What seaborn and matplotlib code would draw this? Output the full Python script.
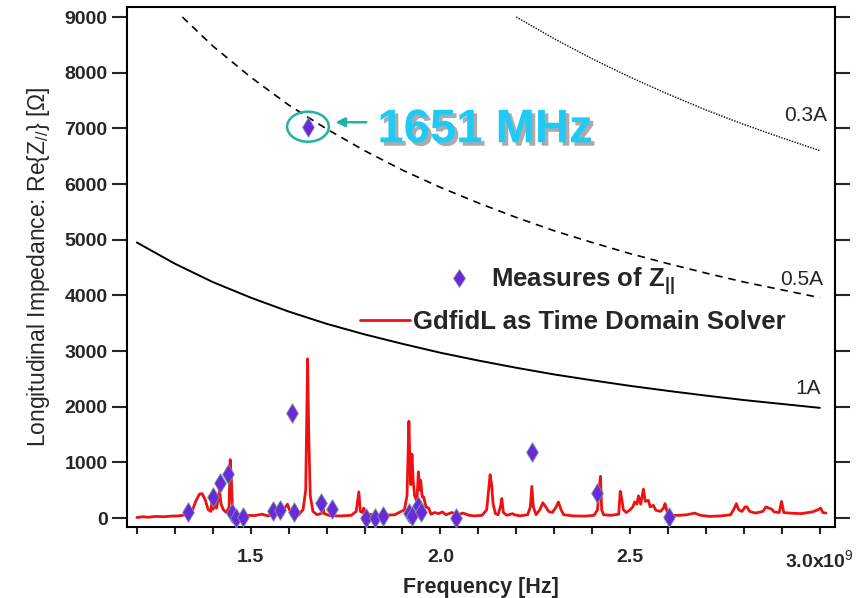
import numpy as np
import pandas as pd
import matplotlib
matplotlib.use("Agg")
import matplotlib.pyplot as plt
import matplotlib.patheffects as pe
from matplotlib.patches import Ellipse
from matplotlib.lines import Line2D
import seaborn as sns

# ---- measured impedance points (frequency in GHz, Re{Z} in Ohm) ----
meas_f = [1.334, 1.400, 1.418, 1.440, 1.450, 1.460, 1.479, 1.558, 1.576, 1.610,
          1.614, 1.651, 1.684, 1.715, 1.805, 1.828, 1.849, 1.918, 1.925, 1.941,
          1.949, 2.040, 2.241, 2.412, 2.603]
meas_z = [108, 377, 628, 790, 90, 0, 18, 126, 144, 1885,
          108, 7030, 270, 160, 5, 5, 36, 90, 36, 220,
          113, 5, 1185, 443, 23]

# ---- GdfidL time-domain simulation spectrum ----
sim_f = [1.200, 1.215, 1.230, 1.250, 1.270, 1.290, 1.310, 1.330, 1.345, 1.355,
         1.365, 1.372, 1.380, 1.388, 1.395, 1.398, 1.401, 1.405, 1.410, 1.414,
         1.418, 1.422, 1.428, 1.436, 1.443, 1.446, 1.449, 1.452, 1.458, 1.470,
         1.490, 1.510, 1.530, 1.545, 1.560, 1.575, 1.585, 1.592, 1.597, 1.602,
         1.610, 1.625, 1.638, 1.645, 1.650, 1.653, 1.657, 1.664, 1.675, 1.688,
         1.691, 1.694, 1.710, 1.740, 1.765, 1.778, 1.785, 1.789, 1.795, 1.798,
         1.802, 1.820, 1.850, 1.880, 1.905, 1.912, 1.917, 1.920, 1.922, 1.925,
         1.928, 1.932, 1.938, 1.942, 1.946, 1.948, 1.952, 1.956, 1.962, 1.969,
         1.975, 1.985, 1.995, 2.005, 2.015, 2.030, 2.045, 2.060, 2.075, 2.090,
         2.110, 2.122, 2.127, 2.131, 2.135, 2.139, 2.145, 2.152, 2.158, 2.162,
         2.166, 2.175, 2.190, 2.195, 2.210, 2.230, 2.237, 2.241, 2.245, 2.252,
         2.262, 2.270, 2.278, 2.285, 2.295, 2.305, 2.311, 2.318, 2.325, 2.350,
         2.380, 2.405, 2.414, 2.418, 2.422, 2.425, 2.430, 2.450, 2.470, 2.474,
         2.478, 2.482, 2.490, 2.500, 2.507, 2.512, 2.518, 2.522, 2.528, 2.535,
         2.540, 2.548, 2.553, 2.561, 2.568, 2.580, 2.588, 2.592, 2.598, 2.610,
         2.630, 2.650, 2.670, 2.685, 2.710, 2.740, 2.765, 2.775, 2.780, 2.786,
         2.795, 2.803, 2.808, 2.815, 2.830, 2.850, 2.858, 2.866, 2.873, 2.880,
         2.893, 2.899, 2.905, 2.920, 2.950, 2.980, 2.995, 3.002, 3.008, 3.016]
sim_z = [10, 25, 15, 30, 25, 35, 40, 60, 110, 300,
         430, 440, 330, 150, 120, 300, 160, 250, 180, 330,
         500, 250, 150, 100, 200, 1050, 700, 150, 80, 60,
         50, 45, 70, 40, 60, 110, 150, 200, 250, 150,
         60, 50, 150, 500, 2860, 1500, 400, 120, 60, 90,
         200, 80, 40, 40, 50, 120, 470, 120, 100, 180,
         90, 60, 50, 60, 150, 400, 1740, 900, 600, 1150,
         700, 400, 300, 830, 500, 680, 380, 380, 200, 180,
         70, 100, 80, 110, 60, 100, 60, 90, 50, 40,
         50, 150, 500, 780, 600, 250, 80, 60, 200, 350,
         100, 50, 80, 60, 40, 60, 200, 570, 200, 60,
         150, 275, 200, 120, 100, 200, 290, 150, 60, 40,
         35, 50, 150, 500, 750, 150, 60, 50, 70, 480,
         350, 150, 100, 150, 200, 290, 250, 400, 250, 520,
         300, 320, 200, 230, 140, 120, 180, 260, 100, 50,
         50, 60, 90, 50, 30, 40, 60, 180, 260, 150,
         120, 200, 200, 120, 90, 120, 200, 180, 160, 110,
         100, 300, 100, 90, 80, 110, 150, 180, 100, 90]

# ---- instability thresholds for different beam currents ----
thr_1a_f = [1.2, 1.3, 1.4, 1.5, 1.6, 1.7, 1.8, 1.9, 2.0, 2.1, 2.2, 2.3, 2.4, 2.5,
            2.6, 2.7, 2.8, 2.9, 3.0]
thr_1a_z = [4950, 4570, 4240, 3960, 3710, 3490, 3300, 3130, 2970, 2830, 2700,
            2580, 2475, 2375, 2285, 2200, 2120, 2050, 1980]
thr_05a_f = [1.32, 1.4, 1.5, 1.6, 1.7, 1.8, 1.9, 2.0, 2.1, 2.2, 2.3, 2.4, 2.5, 2.6,
             2.7, 2.8, 2.9, 3.0]
thr_05a_z = [9000, 8480, 7920, 7420, 6990, 6600, 6250, 5940, 5660, 5400, 5160,
             4950, 4750, 4570, 4400, 4240, 4100, 3960]
thr_03a_f = [2.2, 2.3, 2.4, 2.5, 2.6, 2.7, 2.8, 2.9, 3.0]
thr_03a_z = [9000, 8610, 8250, 7920, 7615, 7330, 7070, 6830, 6600]

x_ticks = [1.5, 2.0, 2.5, 3.0]
x_tick_labels = ["1.5", "2.0", "2.5", "3.0x10$^{9}$"]
y_ticks = [0, 1000, 2000, 3000, 4000, 5000, 6000, 7000, 8000, 9000]

sns.set_theme(style="ticks")
plt.rcParams["font.family"] = ["Liberation Sans", "DejaVu Sans"]
plt.rcParams["mathtext.fontset"] = "custom"
plt.rcParams["mathtext.rm"] = "Liberation Sans"
plt.rcParams["mathtext.it"] = "Liberation Sans:italic"
plt.rcParams["mathtext.bf"] = "Liberation Sans:bold"

fig = plt.figure(figsize=(8.59, 5.98), dpi=100)
ax = fig.add_axes([127 / 859, 1 - 527 / 598, (835 - 127) / 859, (527 - 7) / 598])

red = "#ee1111"
purple = "#6a2ad8"
teal = "#22b2a4"

sim = pd.DataFrame({"f": sim_f, "z": sim_z})
meas = pd.DataFrame({"f": meas_f, "z": meas_z})

sns.lineplot(data=sim, x="f", y="z", ax=ax, color=red, lw=2.0, sort=False,
             estimator=None, zorder=2)
sns.lineplot(x=thr_1a_f, y=thr_1a_z, ax=ax, color="black", lw=1.4, zorder=1)
sns.lineplot(x=thr_05a_f, y=thr_05a_z, ax=ax, color="black", lw=1.2, zorder=1)
ax.lines[-1].set_dashes([4.5, 3.5])
sns.lineplot(x=thr_03a_f, y=thr_03a_z, ax=ax, color="black", lw=1.0, zorder=1)
ax.lines[-1].set_dashes([1.0, 1.0])
sns.scatterplot(data=meas, x="f", y="z", ax=ax, marker="d", s=100, color=purple,
                edgecolor="#7a9a9a", linewidth=0.6, zorder=3)

# current labels for threshold curves
ax.text(3.018, 7140, "0.3A", ha="right", va="baseline", fontsize=15)
ax.text(3.008, 4190, "0.5A", ha="right", va="baseline", fontsize=15)
ax.text(3.004, 2230, "1A", ha="right", va="baseline", fontsize=15)

# highlight of the 1651 MHz measurement
i_hl = meas_f.index(1.651)
ax.add_patch(Ellipse((meas_f[i_hl], meas_z[i_hl]), width=0.11, height=540,
                     fill=False, edgecolor=teal, lw=1.8, zorder=4))
ax.annotate("", xy=(1.716, 7110), xytext=(1.812, 7110),
            arrowprops=dict(arrowstyle="-|>", color=teal, lw=1.8,
                            mutation_scale=14))
ax.text(1.834, 6750, "1651 MHz", color="#1ecbf6", fontsize=34, fontweight="bold",
        ha="left", va="baseline",
        path_effects=[pe.SimplePatchShadow(offset=(2.5, -2.5), shadow_rgbFace="#888888",
                                           alpha=0.7), pe.Normal()])

# axes styling
ax.set_xlim(1.174, 3.04)
ax.set_ylim(-160, 9180)
ax.set_xticks(x_ticks)
ax.set_xticklabels(x_tick_labels)
ax.set_xticks(np.arange(1.2, 3.01, 0.1), minor=True)
ax.set_yticks(y_ticks)
ax.set_yticklabels([str(v) for v in y_ticks])
for s in ax.spines.values():
    s.set_linewidth(1.5)
    s.set_color("black")
ax.tick_params(axis="x", which="both", direction="out", length=5, width=1.5,
               pad=11, labelsize=14, bottom=True, top=False)
ax.tick_params(axis="y", which="major", direction="out", length=11, width=1.5,
               pad=3, labelsize=14, left=True, right=True)
for lab in ax.get_xticklabels() + ax.get_yticklabels():
    lab.set_fontweight("bold")
ax.set_xlabel("Frequency [Hz]", fontsize=15.5, fontweight="bold", labelpad=4)
ax.set_ylabel("Longitudinal Impedance: Re{Z$_{\\mathit{//}}$} [Ω]", fontsize=16.5,
              labelpad=9)
ax.grid(False)

# legend entries
h_meas = Line2D([], [], ls="none", marker="d", markersize=9.5, color=purple,
                markeredgecolor="#7a9a9a", markeredgewidth=0.5)
h_sim = Line2D([], [], color=red, lw=2.0)
leg1 = ax.legend([h_meas], ["Measures of Z$_{\\mathbf{||}}$"], loc="center left",
                 bbox_to_anchor=(446 / 859, 1 - 281 / 598),
                 bbox_transform=fig.transFigure, frameon=False, borderpad=0,
                 borderaxespad=0, handlelength=1.0, handletextpad=0.75,
                 prop=dict(size=18.5, weight="bold"))
ax.add_artist(leg1)
ax.legend([h_sim], ["GdfidL as Time Domain Solver"], loc="center left",
          bbox_to_anchor=(360 / 859, 1 - 322 / 598),
          bbox_transform=fig.transFigure, frameon=False, borderpad=0,
          borderaxespad=0, handlelength=1.95, handletextpad=0.1,
          prop=dict(size=18.5, weight="bold"))

fig.savefig("out.png", dpi=100)
